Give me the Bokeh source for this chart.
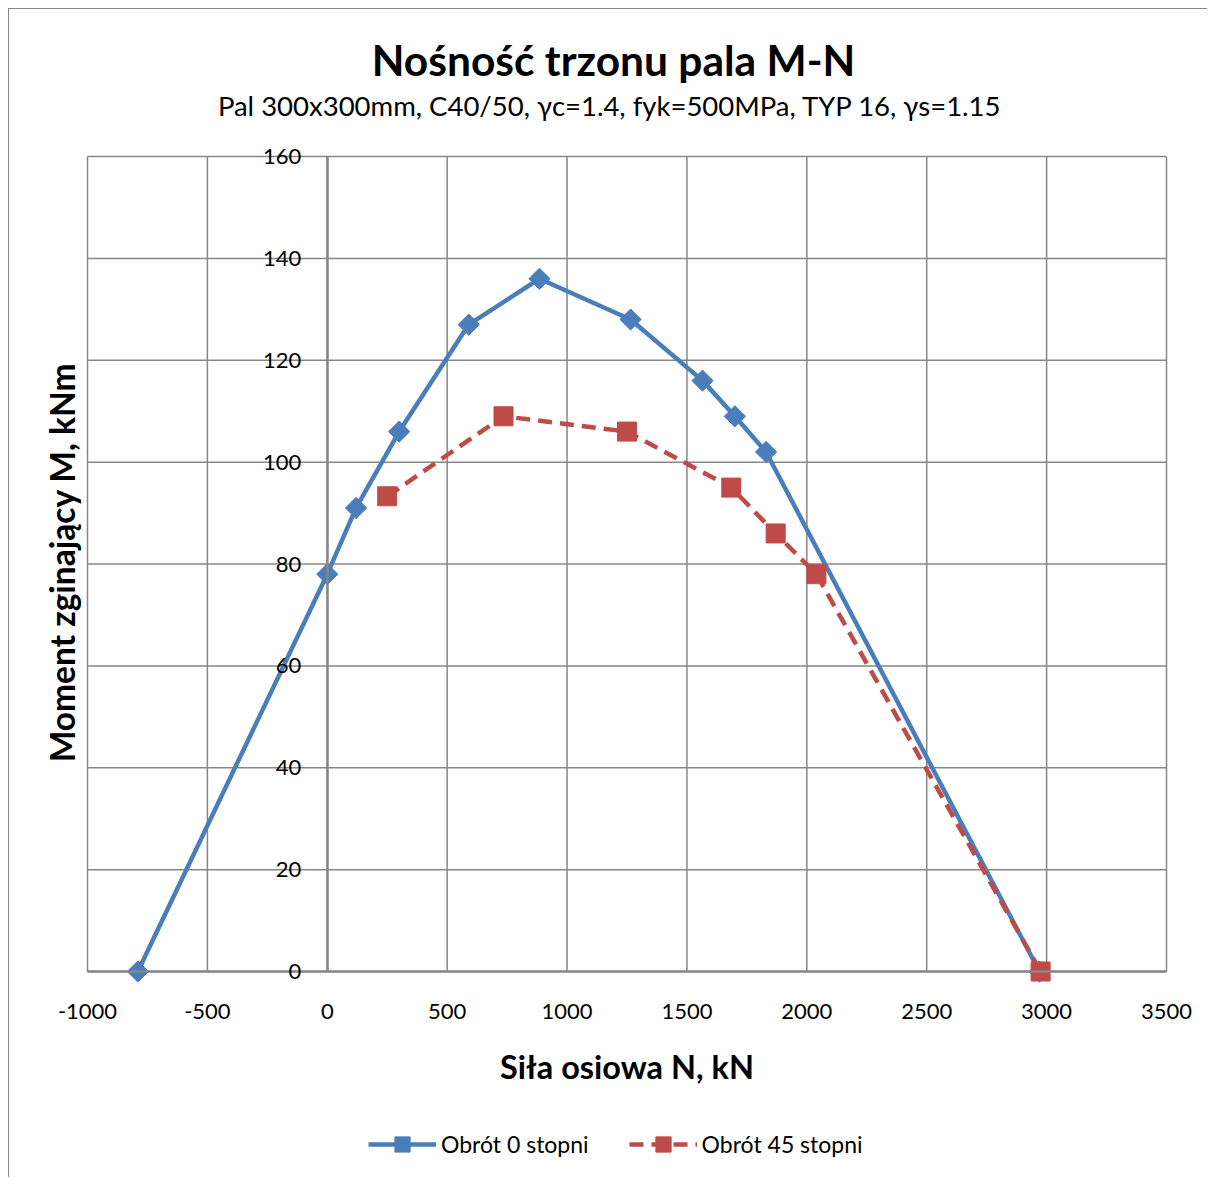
import math
from bokeh.plotting import figure
from bokeh.models import (Range1d, Label, Legend, LegendItem, FixedTicker)
from bokeh.embed import file_html
from bokeh.resources import INLINE

# ---- data ----
n0 = [-790, 0, 120, 300, 590, 885, 1265, 1565, 1700, 1830, 2970]
m0 = [0, 78, 91, 106, 127, 136, 128, 116, 109, 102, 0]
n45 = [250, 735, 1250, 1685, 1870, 2040, 2975]
m45 = [93.3, 109, 106, 95, 86, 78, 0]
x_ticks = [-1000, -500, 0, 500, 1000, 1500, 2000, 2500, 3000, 3500]
y_ticks = [0, 20, 40, 60, 80, 100, 120, 140, 160]
title_text = "Nośność trzonu pala M-N"
subtitle_text = "Pal 300x300mm, C40/50, γc=1.4, fyk=500MPa, TYP 16,  γs=1.15"
x_label = "Siła osiowa N, kN"
y_label = "Moment zginający M, kNm"
series_names = ["Obrót 0 stopni", "Obrót 45 stopni"]

BLUE = "#4a7ebb"
RED = "#be4b48"
GRID = "#878787"
FONT = "Lato"

x_min, x_max = x_ticks[0], x_ticks[-1]
y_min, y_max = y_ticks[0], y_ticks[-1]

# ---- layout (pixels) ----
PAGE_OFF = 9              # 8px page margin + 1px chart border
FIG_W, FIG_H = 1199, 1169
BOX_L, BOX_R, BOX_T, BOX_B = 78, 1157, 147, 962   # plot box inside the figure

sx = (BOX_R - BOX_L) / (x_max - x_min)
sy = (BOX_B - BOX_T) / (y_max - y_min)
vx0 = x_min - BOX_L / sx
vx1 = vx0 + FIG_W / sx
vy1 = y_max + BOX_T / sy
vy0 = vy1 - FIG_H / sy


def px_x(page_x):
    return vx0 + (page_x - PAGE_OFF) / sx


def px_y(page_y):
    return vy1 - (page_y - PAGE_OFF) / sy


p = figure(width=FIG_W, height=FIG_H, output_backend="svg", toolbar_location=None,
           x_range=Range1d(vx0, vx1), y_range=Range1d(vy0, vy1),
           min_border_left=0, min_border_right=0, min_border_top=0,
           min_border_bottom=0)
p.background_fill_color = "white"
p.border_fill_color = "white"
p.outline_line_color = None
p.xgrid.visible = False
p.ygrid.visible = False
p.styles = {"margin-left": "8px", "margin-top": "8px",
            "border-left": "1px solid #888888", "border-top": "1px solid #888888"}

# grid lines from tick arrays
p.segment(x0=x_ticks, y0=[y_min] * len(x_ticks), x1=x_ticks, y1=[y_max] * len(x_ticks),
          line_color=GRID, line_width=1.5)
p.segment(x0=[x_min] * len(y_ticks), y0=y_ticks, x1=[x_max] * len(y_ticks), y1=y_ticks,
          line_color=GRID, line_width=1.5)

# x axis at M = 0
xa = p.xaxis[0]
xa.fixed_location = 0
xa.bounds = (x_min, x_max)
xa.ticker = FixedTicker(ticks=x_ticks)
xa.major_label_overrides = {t: str(t) for t in x_ticks}
xa.axis_line_color = GRID
xa.axis_line_width = 2.5
xa.major_tick_line_color = None
xa.minor_tick_line_color = None
xa.major_label_standoff = 26
xa.major_label_text_font = FONT
xa.major_label_text_font_size = "22px"
xa.major_label_text_color = "black"
xa.axis_label = x_label
xa.axis_label_text_font = FONT
xa.axis_label_text_font_size = "32.5px"
xa.axis_label_text_font_style = "bold"
xa.axis_label_text_color = "black"
xa.axis_label_standoff = 25

# y axis at N = 0
ya = p.yaxis[0]
ya.fixed_location = 0
ya.bounds = (y_min, y_max)
ya.ticker = FixedTicker(ticks=y_ticks)
ya.axis_line_color = GRID
ya.axis_line_width = 2.5
ya.major_tick_line_color = None
ya.minor_tick_line_color = None
ya.major_label_standoff = 20
ya.major_label_text_font = FONT
ya.major_label_text_font_size = "22px"
ya.major_label_text_color = "black"

# series
l0 = p.line(n0, m0, line_color=BLUE, line_width=4.5)
s0 = p.scatter(n0, m0, marker="square", angle=math.pi / 4, size=15,
               fill_color=BLUE, line_color=BLUE)
l45 = p.line(n45, m45, line_color=RED, line_width=4.5, line_dash="14 8")
s45 = p.scatter(n45, m45, marker="square", size=19, fill_color=RED, line_color=RED)

# titles
p.add_layout(Label(x=px_x(613), y=px_y(59), text=title_text,
                   text_align="center", text_baseline="alphabetic",
                   text_font=FONT, text_font_style="bold",
                   text_font_size="42.5px", text_color="black"))
p.add_layout(Label(x=px_x(613), y=px_y(105), text=subtitle_text,
                   text_align="center", text_baseline="alphabetic",
                   text_font=FONT, text_font_size="27.5px", text_color="black"))
p.add_layout(Label(x=px_x(61), y=px_y(562), text=y_label, angle=math.pi / 2,
                   text_align="center", text_baseline="middle",
                   text_font=FONT, text_font_style="bold",
                   text_font_size="33.5px", text_color="black"))

legend = Legend(items=[LegendItem(label=series_names[0], renderers=[l0, s0]),
                       LegendItem(label=series_names[1], renderers=[l45, s45])],
                orientation="horizontal", location=(359, 15),
                glyph_width=68, glyph_height=38, label_standoff=5, spacing=40,
                padding=0, margin=0, border_line_color=None,
                background_fill_alpha=0,
                label_text_font=FONT, label_text_font_size="23px",
                label_text_color="black")
p.add_layout(legend, "center")

open("out.html", "w").write(file_html(p, INLINE))
